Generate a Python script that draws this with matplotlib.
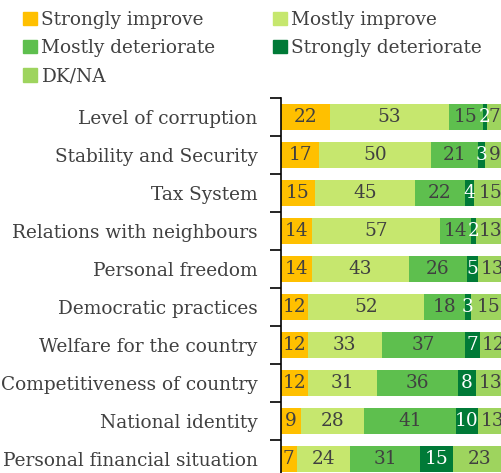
import matplotlib
matplotlib.use('Agg')

import matplotlib.pyplot as plt
from matplotlib.patches import Patch

categories = ['Level of corruption', 'Stability and Security', 'Tax System',
              'Relations with neighbours', 'Personal freedom', 'Democratic practices',
              'Welfare for the country', 'Competitiveness of country',
              'National identity', 'Personal financial situation']
series_names = ['Strongly improve', 'Mostly improve', 'Mostly deteriorate',
                'Strongly deteriorate', 'DK/NA']
strongly_improve = [22, 17, 15, 14, 14, 12, 12, 12, 9, 7]
mostly_improve = [53, 50, 45, 57, 43, 52, 33, 31, 28, 24]
mostly_deteriorate = [15, 21, 22, 14, 26, 18, 37, 36, 41, 31]
strongly_deteriorate = [2, 3, 4, 2, 5, 3, 7, 8, 10, 15]
dk_na = [7, 9, 15, 13, 13, 15, 12, 13, 13, 23]

colors = ['#FFC000', '#C6E76E', '#5EBF4E', '#007A37', '#9ED45E']
text_colors = ['#404040', '#404040', '#404040', 'white', '#404040']

plt.rcParams['font.family'] = ['DejaVu Serif']
FS = 13.3

fig = plt.figure(figsize=(5.02, 4.73), dpi=100)
ax = fig.add_axes([281 / 502, -5 / 473, 1 - 281 / 502, 380 / 473])

series = [strongly_improve, mostly_improve, mostly_deteriorate,
          strongly_deteriorate, dk_na]
ypos = list(range(len(categories)))
left = [0] * len(categories)
for vals, col, tcol in zip(series, colors, text_colors):
    bars = ax.barh(ypos, vals, left=left, height=0.66, color=col, linewidth=0)
    for b, v in zip(bars, vals):
        ax.text(b.get_x() + b.get_width() / 2, b.get_y() + b.get_height() / 2, str(v),
                ha='center', va='center', color=tcol, fontsize=FS)
    left = [l + v for l, v in zip(left, vals)]

ax.set_xlim(0, 98.7)
ax.set_ylim(len(categories) - 0.5, -0.5)
ax.set_yticks(ypos)
ax.set_yticklabels(categories, fontsize=FS, color='#404040')
ax.set_yticks([i - 0.5 for i in range(len(categories) + 1)], minor=True)
ax.tick_params(axis='y', which='major', length=0, pad=17)
ax.tick_params(axis='y', which='minor', length=8, width=1.2, color='black')
ax.set_xticks([])
for s in ['top', 'right', 'bottom']:
    ax.spines[s].set_visible(False)
ax.spines['left'].set_linewidth(1.2)

handles = [Patch(color=c, label=n) for c, n in zip(colors, series_names)]
order = [0, 2, 4, 1, 3]
fig.legend([handles[i] for i in order], [series_names[i] for i in order],
           ncol=2, loc='upper left', bbox_to_anchor=(23 / 502, 1 - 11 / 473),
           borderaxespad=0, borderpad=0,
           frameon=False, fontsize=FS, handlelength=0.75, handleheight=0.75,
           handletextpad=0.25, labelspacing=0.55, columnspacing=3.1,
           labelcolor='#404040')

fig.savefig('out.png', dpi=100)
